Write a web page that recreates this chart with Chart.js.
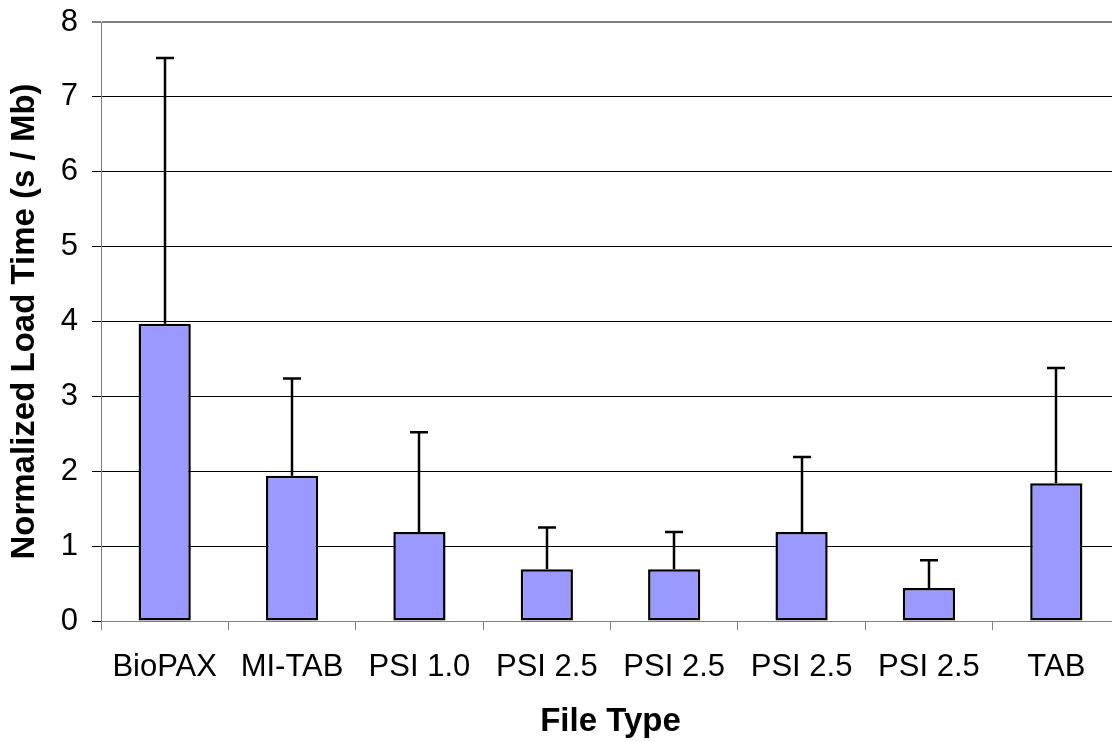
<!DOCTYPE html>
<html>
<head>
<meta charset="utf-8">
<script src="https://cdn.jsdelivr.net/npm/chart.js@4/dist/chart.umd.min.js"></script>
<style>
  html, body { margin: 0; padding: 0; background: #fff; overflow: hidden; }
  #wrap { width: 1122px; height: 742px; }
</style>
</head>
<body>
<div id="wrap"><canvas id="c" width="1122" height="742"></canvas></div>
<script>
const categories = ["BioPAX", "MI-TAB", "PSI 1.0", "PSI 2.5", "PSI 2.5", "PSI 2.5", "PSI 2.5", "TAB"];
const meanLoadTime = [3.97, 1.94, 1.19, 0.69, 0.69, 1.19, 0.44, 1.84];
const errorTop = [7.52, 3.24, 2.52, 1.25, 1.19, 2.19, 0.81, 3.38];
const yTicks = [0, 1, 2, 3, 4, 5, 6, 7, 8];

const errorBars = {
  id: 'errorBars',
  afterDatasetsDraw(chart) {
    const ctx = chart.ctx;
    const meta = chart.getDatasetMeta(0);
    const y = chart.scales.y;
    ctx.save();
    ctx.strokeStyle = '#000';
    ctx.lineWidth = 2.5;
    meta.data.forEach((bar, i) => {
      const x = Math.round(bar.x);
      const yBase = y.getPixelForValue(meanLoadTime[i]);
      const yTop = y.getPixelForValue(errorTop[i]);
      ctx.beginPath();
      ctx.moveTo(x, yBase);
      ctx.lineTo(x, yTop);
      ctx.moveTo(x - 9, yTop);
      ctx.lineTo(x + 9, yTop);
      ctx.stroke();
    });
    ctx.restore();
  }
};

new Chart(document.getElementById('c'), {
  type: 'bar',
  data: {
    labels: categories,
    datasets: [{
      data: meanLoadTime,
      backgroundColor: '#9999FF',
      borderColor: '#000',
      borderWidth: 2.5,
      borderSkipped: false,
      categoryPercentage: 1,
      barPercentage: 0.41
    }]
  },
  options: {
    responsive: false,
    animation: false,
    devicePixelRatio: 1,
    layout: { padding: { top: 22, left: 0, right: 2, bottom: 0 } },
    plugins: { legend: { display: false }, tooltip: { enabled: false } },
    scales: {
      x: {
        offset: true,
        grid: { display: true, drawOnChartArea: false, offset: true, color: '#808080', tickLength: 9, lineWidth: 1 },
        border: { display: true, color: '#808080', width: 1 },
        ticks: { color: '#000', font: { family: 'Liberation Sans, Arial, sans-serif', size: 31 }, padding: 19, maxRotation: 0, autoSkip: false },
        title: { display: true, text: 'File Type', color: '#000', font: { family: 'Liberation Sans, Arial, sans-serif', size: 33, weight: 'bold' }, padding: { top: 0, bottom: 0 } },
        afterFit(scale) { scale.height = 742 - 621; scale.paddingLeft = 0; scale.paddingRight = 0; }
      },
      y: {
        min: 0, max: 8,
        afterBuildTicks(scale) { scale.ticks = yTicks.map(v => ({ value: v })); },
        grid: { color: (c) => (c.tick && c.tick.value === 8 ? '#808080' : '#000'), lineWidth: (c) => (c.tick && c.tick.value === 8 ? 2 : 1), tickLength: 9, drawTicks: true },
        border: { display: true, color: '#808080', width: 1 },
        ticks: { color: '#000', font: { family: 'Liberation Sans, Arial, sans-serif', size: 31 }, padding: 14 },
        title: { display: true, text: 'Normalized Load Time (s / Mb)', color: '#000', font: { family: 'Liberation Sans, Arial, sans-serif', size: 33, weight: 'bold' }, padding: { top: 5, bottom: 0 } },
        afterFit(scale) { scale.width = 101; scale.paddingTop = 0; scale.paddingBottom = 0; }
      }
    }
  },
  plugins: [errorBars]
});
</script>
</body>
</html>
